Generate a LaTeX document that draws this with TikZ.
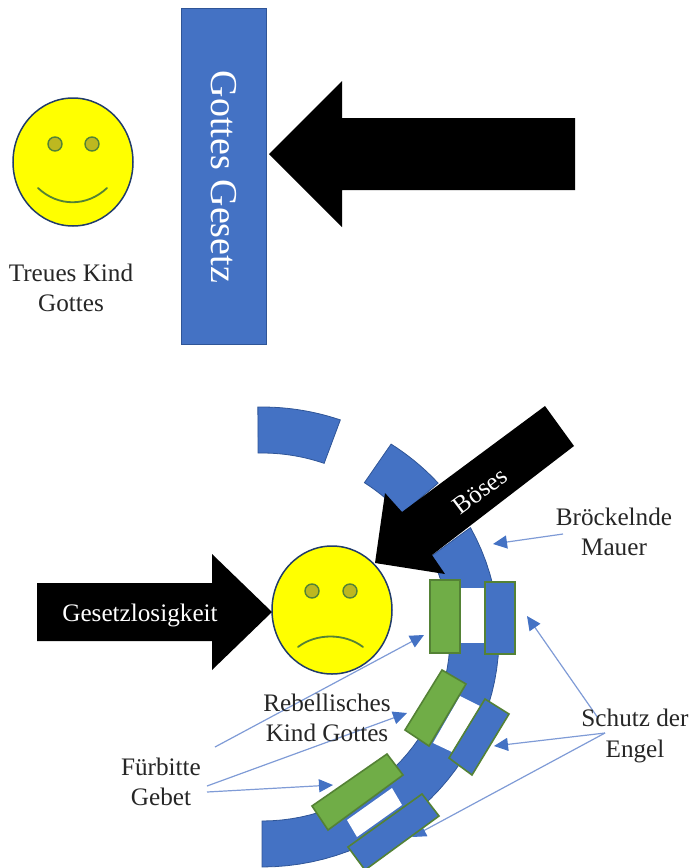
\documentclass[tikz,border=0pt]{standalone}
\usepackage{fontspec}
\setmainfont{Liberation Serif}
\usetikzlibrary{arrows.meta}
\definecolor{wallblue}{HTML}{4472C4}
\definecolor{edgeblue}{HTML}{2F5597}
\definecolor{leafgreen}{HTML}{70AD47}
\definecolor{edgegreen}{HTML}{548235}
\definecolor{linkblue}{HTML}{7F9BD6}
\definecolor{eyefill}{HTML}{BDB820}
\definecolor{faceyellow}{RGB}{255,255,0}
\definecolor{inktext}{HTML}{262626}
\tikzset{
  wall/.style={fill=wallblue,draw=edgeblue,line width=0.8pt},
  face/.style={fill=faceyellow,draw=edgeblue!70!black,line width=1.5pt},
  eye/.style={fill=eyefill,draw=edgegreen,line width=1.4pt},
  mouth/.style={draw=edgegreen,line width=1.8pt,line cap=round},
  blackarrow/.style={fill=black,draw=none},
  gapbox/.style={fill=white,draw=none},
  prayerbox/.style={fill=leafgreen,draw=edgegreen,line width=1.6pt},
  angelbox/.style={fill=wallblue,draw=edgegreen,line width=1.6pt},
  link/.style={draw=linkblue,line width=1.2pt,-{Triangle[length=14pt,width=13pt,color=wallblue,fill=wallblue]}},
  label/.style={align=center,text=inktext,font=\fontsize{25.2}{30.5}\selectfont,inner sep=0pt},
  whitelabel/.style={text=white,inner sep=0pt},
}
\newcommand{\wallseg}[4]{%
  \path[wall] plot[domain=-#1:-#2,samples=40] (\x:237 and 230)
    -- plot[domain=-#4:-#3,samples=40] (\x:188 and 184) -- cycle;}
\begin{document}
\begin{tikzpicture}[x=1pt,y=-1pt]
\useasboundingbox (0,0) rectangle (693,868);
% top part
\path[fill=wallblue,draw=edgeblue,line width=0.8pt] (181,8) rectangle (266,344);
\node[whitelabel,rotate=-90,font=\fontsize{38}{38}\selectfont] (gesetz) at (224,177) {Gottes Gesetz};
\path[blackarrow] (269,154) -- (342,81) -- (342,118) -- (575,118) -- (575,190) -- (342,190) -- (342,227) -- cycle;
\path[face] (73,162) ellipse [x radius=60,y radius=64];
\path[eye] (55,144) circle [radius=7];
\path[eye] (92,144) circle [radius=7];
\path[mouth] (38,188) .. controls (58,207) and (87,207) .. (107,188);
\node[label] (treu) at (71,288) {Treues Kind\\Gottes};
% wall
\begin{scope}[shift={(262,637)}]
  \wallseg{91}{70.7}{91.2}{70.7}
  \wallseg{57}{42}{57}{42}
  \wallseg{28.4}{-90}{26}{-90}
\end{scope}
% connectors
\coordinate (brsrc) at (563,534);
\coordinate (brtip) at (493,544);
\coordinate (fb1) at (215,747);
\coordinate (fb2) at (207,786);
\coordinate (fb3) at (207,792);
\coordinate (fbt1) at (424,635);
\coordinate (fbt2) at (407,713);
\coordinate (fbt3) at (333,785);
\coordinate (en1) at (598,718);
\coordinate (en2) at (605,733);
\coordinate (ent1) at (527,616);
\coordinate (ent2) at (494,746);
\coordinate (ent3) at (412,837);
\draw[link] (brsrc) -- (brtip);
\draw[link] (fb1) -- (fbt1);
\draw[link] (fb2) -- (fbt2);
\draw[link] (fb3) -- (fbt3);
\draw[link] (en1) -- (ent1);
\draw[link] (en2) -- (ent2);
\draw[link] (en2) -- (ent3);
% boxes
\path[gapbox] (459,588) rectangle (486,643);
\path[prayerbox] (430,580) rectangle (460,653);
\path[angelbox] (485,582) rectangle (515,654);
\path[gapbox] (460,696) -- (480,706) -- (452,752) -- (433,743) -- cycle;
\path[prayerbox] (442,670) -- (466,684) -- (429,746) -- (405,730) -- cycle;
\path[angelbox] (485,699) -- (509,714) -- (472,775) -- (449,758) -- cycle;
\path[gapbox] (392,788) -- (402,805) -- (357,837) -- (347,820) -- cycle;
\path[prayerbox] (387,754) -- (403,775) -- (328,830) -- (312,806) -- cycle;
\path[angelbox] (422,794) -- (439,816) -- (365,870) -- (348,847) -- cycle;
% bad face
\path[face] (332,610) ellipse [x radius=60,y radius=64];
\path[eye] (312,591) circle [radius=7];
\path[eye] (350,591) circle [radius=7];
\path[mouth] (298,647) .. controls (316,633) and (345,633) .. (363,647);
% black arrows
\path[blackarrow] (272,612) -- (212,554) -- (212,583) -- (37,583) -- (37,641) -- (212,641) -- (212,670) -- cycle;
\node[whitelabel,font=\fontsize{25.2}{25}\selectfont] (los) at (140,615) {Gesetzlosigkeit};
\path[blackarrow] (375,563) -- (385,493) -- (402,512) -- (545,406) -- (574,446) -- (432,555) -- (445,574) -- cycle;
\node[whitelabel,rotate=37,font=\fontsize{25.2}{25}\selectfont] (boese) at (480,491) {Böses};
% labels
\node[label] (broeckel) at (614,532) {Bröckelnde\\Mauer};
\node[label] (schutz) at (635,736) {Schutz der\\Engel};
\node[label] (fuerbitte) at (161,782) {Fürbitte\\Gebet};
\node[label] (rebell) at (327,718) {Rebellisches\\Kind Gottes};
\end{tikzpicture}
\end{document}
